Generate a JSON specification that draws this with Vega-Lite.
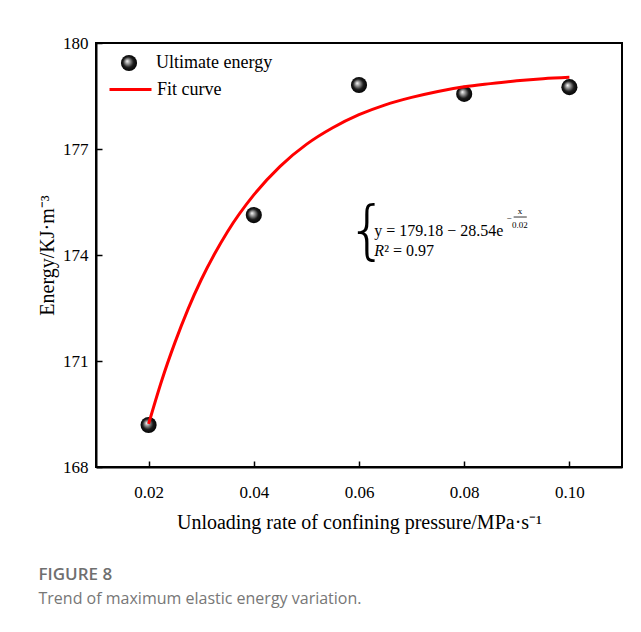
{
  "$schema": "https://vega.github.io/schema/vega-lite/v6.json",
  "width": 526,
  "height": 424,
  "autosize": {"type": "none"},
  "padding": {"left": 96, "top": 43, "right": 19, "bottom": 165},
  "background": "white",
  "config": {
    "view": {"stroke": "black", "strokeWidth": 2},
    "font": "Liberation Serif"
  },
  "title": {
    "text": "FIGURE 8",
    "subtitle": "Trend of maximum elastic energy variation.",
    "orient": "bottom",
    "anchor": "start",
    "dx": 1,
    "offset": 35,
    "font": "Open Sans",
    "fontSize": 17,
    "fontWeight": 600,
    "color": "#6f6f6f",
    "subtitleFont": "Open Sans",
    "subtitleFontSize": 16,
    "subtitleColor": "#777777",
    "subtitlePadding": 7
  },
  "datasets": {
    "pts": [
      {"rate": 0.02, "energy": 169.19, "s": "Ultimate energy"},
      {"rate": 0.04, "energy": 175.13, "s": "Ultimate energy"},
      {"rate": 0.06, "energy": 178.81, "s": "Ultimate energy"},
      {"rate": 0.08, "energy": 178.56, "s": "Ultimate energy"},
      {"rate": 0.10, "energy": 178.75, "s": "Ultimate energy"}
    ],
    "fit": [
      {"rate": 0.02, "energy": 169.22, "c": "Fit curve"},
      {"rate": 0.0225, "energy": 170.45, "c": "Fit curve"},
      {"rate": 0.025, "energy": 171.52, "c": "Fit curve"},
      {"rate": 0.0275, "energy": 172.47, "c": "Fit curve"},
      {"rate": 0.03, "energy": 173.30, "c": "Fit curve"},
      {"rate": 0.0325, "energy": 174.02, "c": "Fit curve"},
      {"rate": 0.035, "energy": 174.66, "c": "Fit curve"},
      {"rate": 0.04, "energy": 175.70, "c": "Fit curve"},
      {"rate": 0.045, "energy": 176.51, "c": "Fit curve"},
      {"rate": 0.05, "energy": 177.13, "c": "Fit curve"},
      {"rate": 0.055, "energy": 177.60, "c": "Fit curve"},
      {"rate": 0.06, "energy": 177.97, "c": "Fit curve"},
      {"rate": 0.065, "energy": 178.25, "c": "Fit curve"},
      {"rate": 0.07, "energy": 178.46, "c": "Fit curve"},
      {"rate": 0.075, "energy": 178.63, "c": "Fit curve"},
      {"rate": 0.08, "energy": 178.76, "c": "Fit curve"},
      {"rate": 0.085, "energy": 178.85, "c": "Fit curve"},
      {"rate": 0.09, "energy": 178.93, "c": "Fit curve"},
      {"rate": 0.095, "energy": 178.99, "c": "Fit curve"},
      {"rate": 0.10, "energy": 179.03, "c": "Fit curve"}
    ],
    "brace": [{"rate": 0.0616, "energy": 174.62, "t": "{"}],
    "eq": [
      {"rate": 0.0629, "energy": 174.68, "t": "y = 179.18 − 28.54e"}
    ],
    "r2i": [{"rate": 0.0629, "energy": 174.11, "t": "R"}],
    "r2": [{"rate": 0.0648, "energy": 174.11, "t": "² = 0.97"}],
    "sup": [
      {"rate": 0.0885, "energy": 175.05, "t": "−"},
      {"rate": 0.0906, "energy": 175.245, "t": "x"},
      {"rate": 0.0906, "energy": 174.85, "t": "0.02"}
    ],
    "bar": [{"rate": 0.0894, "rate2": 0.0919, "energy": 175.075}]
  },
  "encoding": {
    "x": {
      "field": "rate", "type": "quantitative",
      "scale": {"domain": [0.01, 0.11], "nice": false, "zero": false},
      "axis": {
        "values": [0.02, 0.04, 0.06, 0.08, 0.10],
        "format": ".2f",
        "grid": false,
        "tickSize": -6, "tickWidth": 1.5, "tickColor": "black",
        "domainColor": "black", "domainWidth": 2,
        "labelFont": "Times New Roman, Liberation Serif, serif", "labelFontSize": 17, "labelFontWeight": "normal", "labelColor": "black",
        "labelPadding": 23,
        "title": "Unloading rate of confining pressure/MPa·s⁻¹",
        "titleFont": "Liberation Serif", "titleFontSize": 20, "titleFontWeight": "normal",
        "titleColor": "black", "titlePadding": 12
      }
    },
    "y": {
      "field": "energy", "type": "quantitative",
      "scale": {"domain": [168, 180], "nice": false, "zero": false},
      "axis": {
        "values": [168, 171, 174, 177, 180],
        "grid": false,
        "tickSize": -6, "tickWidth": 1.5, "tickColor": "black",
        "domainColor": "black", "domainWidth": 2,
        "labelFont": "Times New Roman, Liberation Serif, serif", "labelFontSize": 17, "labelFontWeight": "normal", "labelColor": "black",
        "labelPadding": 14,
        "title": "Energy/KJ·m⁻³",
        "titleFont": "Liberation Serif", "titleFontSize": 20, "titleFontWeight": "normal",
        "titleColor": "black", "titlePadding": 5
      }
    }
  },
  "layer": [
    {
      "data": {"name": "pts"},
      "mark": {
        "type": "point", "filled": true, "size": 260, "opacity": 1, "strokeWidth": 0,
        "fill": {
          "gradient": "radial",
          "x1": 0.38, "y1": 0.38, "r1": 0,
          "x2": 0.5, "y2": 0.5, "r2": 0.55,
          "stops": [
            {"offset": 0, "color": "#ffffff"},
            {"offset": 0.2, "color": "#b0b0b0"},
            {"offset": 0.6, "color": "#1a1a1a"},
            {"offset": 1, "color": "#000000"}
          ]
        }
      },
      "encoding": {
        "shape": {
          "field": "s", "type": "nominal",
          "scale": {"range": ["circle"]},
          "legend": {
            "title": null, "orient": "none", "legendX": 24, "legendY": 11,
            "padding": 0, "symbolSize": 260, "symbolOpacity": 1,
            "labelFont": "Liberation Serif", "labelFontSize": 18, "labelColor": "black",
            "labelOffset": 18,
            "encode": {
              "symbols": {
                "update": {
                  "fill": {"value": {
                    "gradient": "radial",
                    "x1": 0.38, "y1": 0.38, "r1": 0,
                    "x2": 0.5, "y2": 0.5, "r2": 0.55,
                    "stops": [
                      {"offset": 0, "color": "#ffffff"},
                      {"offset": 0.2, "color": "#b0b0b0"},
                      {"offset": 0.6, "color": "#1a1a1a"},
                      {"offset": 1, "color": "#000000"}
                    ]
                  }},
                  "strokeWidth": {"value": 0},
                  "opacity": {"value": 1}
                }
              }
            }
          }
        }
      }
    },
    {
      "data": {"name": "fit"},
      "mark": {"type": "line", "strokeWidth": 3, "interpolate": "monotone"},
      "encoding": {
        "color": {
          "field": "c", "type": "nominal",
          "scale": {"range": ["#ff0000"]},
          "legend": {
            "title": null, "orient": "none", "legendX": 12, "legendY": 24,
            "padding": 0, "symbolType": "stroke", "symbolSize": 1764, "symbolStrokeWidth": 3,
            "labelFont": "Liberation Serif", "labelFontSize": 18, "labelColor": "black",
            "labelOffset": 4
          }
        }
      }
    },
    {
      "data": {"name": "brace"},
      "mark": {"type": "text", "font": "DejaVu Sans", "fontWeight": 200, "fontSize": 64, "align": "center", "baseline": "middle", "color": "black"},
      "encoding": {"text": {"field": "t"}}
    },
    {
      "data": {"name": "eq"},
      "mark": {"type": "text", "font": "Times New Roman, Liberation Serif, serif", "fontSize": 16, "align": "left", "baseline": "middle", "color": "black"},
      "encoding": {"text": {"field": "t"}}
    },
    {
      "data": {"name": "r2i"},
      "mark": {"type": "text", "font": "Times New Roman, Liberation Serif, serif", "fontSize": 16, "fontStyle": "italic", "align": "left", "baseline": "middle", "color": "black"},
      "encoding": {"text": {"field": "t"}}
    },
    {
      "data": {"name": "r2"},
      "mark": {"type": "text", "font": "Times New Roman, Liberation Serif, serif", "fontSize": 16, "align": "left", "baseline": "middle", "color": "black"},
      "encoding": {"text": {"field": "t"}}
    },
    {
      "data": {"name": "sup"},
      "mark": {"type": "text", "font": "Times New Roman, Liberation Serif, serif", "fontSize": 9, "align": "center", "baseline": "middle", "color": "black"},
      "encoding": {"text": {"field": "t"}}
    },
    {
      "data": {"name": "bar"},
      "mark": {"type": "rule", "strokeWidth": 0.8, "color": "black"},
      "encoding": {"x2": {"field": "rate2"}}
    }
  ]
}
